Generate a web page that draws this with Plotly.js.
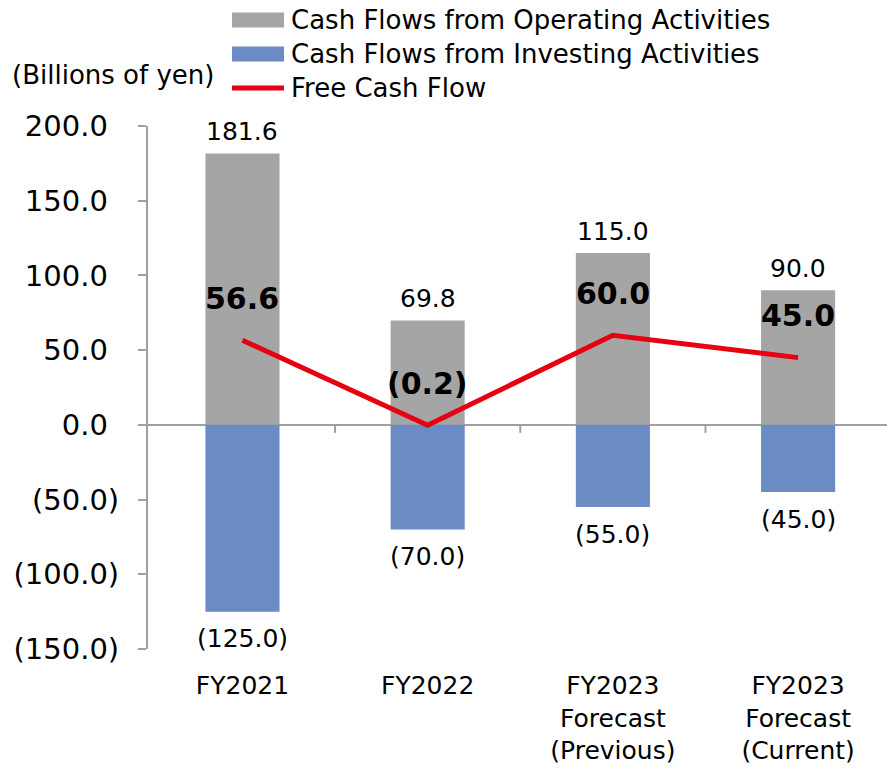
<!DOCTYPE html>
<html>
<head>
<meta charset="utf-8">
<script src="https://cdn.plot.ly/plotly-3.0.1.min.js"></script>
<style>html,body{margin:0;padding:0;background:#fff;}#chart{width:887px;height:768px;}</style>
</head>
<body>
<div id="chart"></div>
<script>
// ---- data ----
const categories = ['FY2021', 'FY2022', 'FY2023<br>Forecast<br>(Previous)', 'FY2023<br>Forecast<br>(Current)'];
const operatingCF = [181.6, 69.8, 115.0, 90.0];
const investingCF = [-125.0, -70.0, -55.0, -45.0];
const freeCF = [56.6, -0.2, 60.0, 45.0];
const yTickVals = [-150, -100, -50, 0, 50, 100, 150, 200];
const seriesNames = ['Cash Flows from Operating Activities', 'Cash Flows from Investing Activities', 'Free Cash Flow'];
const unitLabel = '(Billions of yen)';

// ---- styles ----
const FONT = 'DejaVu Sans, Verdana, sans-serif';
const GRAY = '#A5A5A5';
const BLUE = '#6A8BC4';
const RED = '#E60012';
const AXIS = '#A0A0A0';

function fmt(v) {
  const s = Math.abs(v).toFixed(1);
  return v < 0 ? '(' + s + ')' : s;
}
const yTickText = yTickVals.map(v => v < 0 ? fmt(v) : fmt(v) + '<span style="color:rgba(0,0,0,0)">)</span>');

const traces = [
  {type: 'bar', x: categories, y: operatingCF, name: seriesNames[0], marker: {color: GRAY}, width: 0.4, hoverinfo: 'none'},
  {type: 'bar', x: categories, y: investingCF, name: seriesNames[1], marker: {color: BLUE}, width: 0.4, hoverinfo: 'none'},
  {type: 'scatter', mode: 'lines', x: categories, y: freeCF, name: seriesNames[2], line: {color: RED, width: 5}, hoverinfo: 'none'}
];

const annotations = [];
categories.forEach((c, i) => {
  annotations.push({x: c, y: operatingCF[i], xref: 'x', yref: 'y', text: fmt(operatingCF[i]), showarrow: false,
    yanchor: 'middle', yshift: 22, font: {family: FONT, size: 25, color: '#000'}});
  annotations.push({x: c, y: investingCF[i], xref: 'x', yref: 'y', text: fmt(investingCF[i]), showarrow: false,
    yanchor: 'middle', yshift: -27, font: {family: FONT, size: 25, color: '#000'}});
  annotations.push({x: c, y: freeCF[i], xref: 'x', yref: 'y', text: '<b>' + fmt(freeCF[i]) + '</b>', showarrow: false,
    yanchor: 'middle', yshift: 42, font: {family: FONT, size: 30, color: '#000'}});
});

// unit label
annotations.push({xref: 'paper', yref: 'paper', x: -0.1867, y: 1.0975, xanchor: 'left', yanchor: 'middle',
  text: unitLabel, showarrow: false, font: {family: FONT, size: 26, color: '#000'}});

// manual legend (large swatches like the original)
const legendY = [1.2027, 1.1377, 1.0727];
seriesNames.forEach((n, i) => {
  annotations.push({xref: 'paper', yref: 'paper', x: 0.1908, y: legendY[i], xanchor: 'left', yanchor: 'middle',
    text: n, showarrow: false, font: {family: FONT, size: 26, color: '#000'}});
});

const shapes = [
  {type: 'rect', xref: 'paper', yref: 'paper', x0: 0.1137, x1: 0.1840, y0: legendY[0] - 0.0143, y1: legendY[0] + 0.0143, fillcolor: GRAY, line: {width: 0}},
  {type: 'rect', xref: 'paper', yref: 'paper', x0: 0.1137, x1: 0.1840, y0: legendY[1] - 0.0143, y1: legendY[1] + 0.0143, fillcolor: BLUE, line: {width: 0}},
  {type: 'line', xref: 'paper', yref: 'paper', x0: 0.1137, x1: 0.1840, y0: legendY[2], y1: legendY[2], line: {color: RED, width: 5}}
];
// category boundary tick marks on the zero line
for (let i = 0; i < categories.length - 1; i++) {
  shapes.push({type: 'line', xref: 'x', yref: 'y', ysizemode: 'pixel', yanchor: 0, x0: i + 0.5, x1: i + 0.5, y0: 0, y1: -8,
    line: {color: AXIS, width: 2}});
}

const layout = {
  width: 887, height: 768,
  margin: {l: 148, r: 0, t: 126, b: 119, pad: 0},
  paper_bgcolor: '#fff', plot_bgcolor: '#fff',
  barmode: 'relative',
  showlegend: false,
  font: {family: FONT, color: '#000'},
  xaxis: {
    type: 'category', range: [-0.51, 3.48], showline: false, ticks: '', showgrid: false, zeroline: false,
    tickfont: {family: FONT, size: 25, color: '#000'}, ticklabelstandoff: 19, fixedrange: true
  },
  yaxis: {
    range: [-150, 200], tickvals: yTickVals, ticktext: yTickText,
    showline: true, linecolor: AXIS, linewidth: 2,
    ticks: 'outside', ticklen: 8, tickwidth: 2, tickcolor: AXIS,
    showgrid: false, zeroline: true, zerolinecolor: AXIS, zerolinewidth: 2,
    tickfont: {family: FONT, size: 29, color: '#000'}, ticklabelstandoff: 13, fixedrange: true
  },
  annotations: annotations,
  shapes: shapes
};

Plotly.newPlot('chart', traces, layout, {displayModeBar: false, staticPlot: true});
</script>
</body>
</html>
